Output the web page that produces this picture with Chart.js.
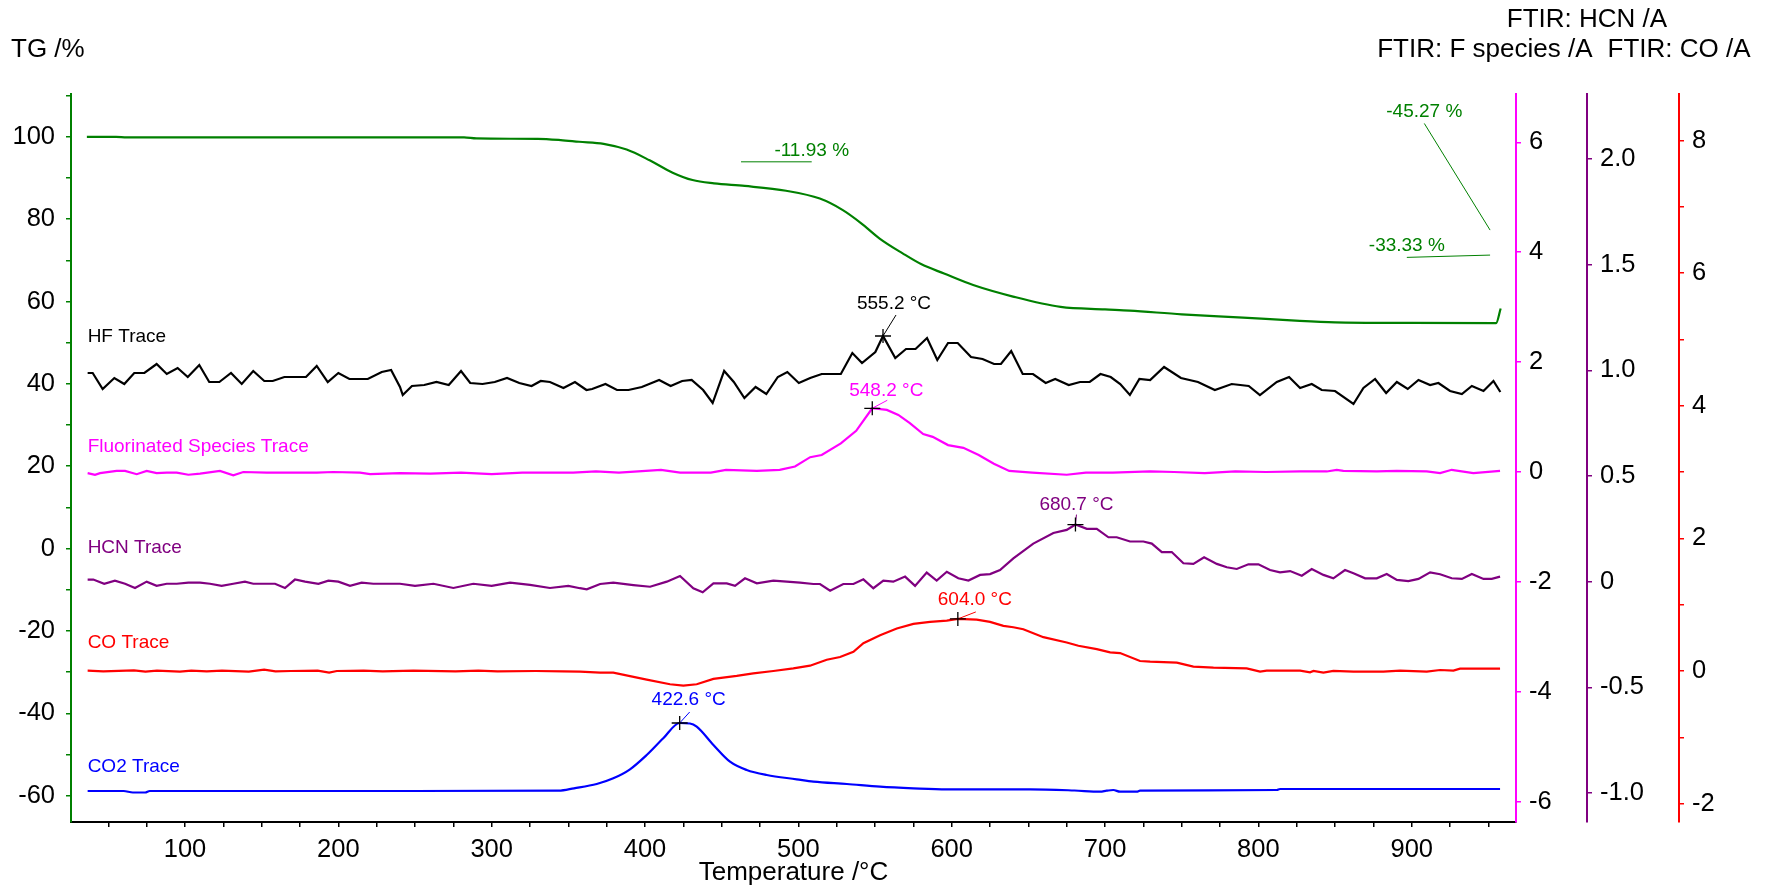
<!DOCTYPE html>
<html>
<head>
<meta charset="utf-8">
<title>TG-FTIR</title>
<script src="https://cdn.jsdelivr.net/npm/chart.js@4.4.0/dist/chart.umd.min.js"></script>
<style>
  html, body { margin: 0; padding: 0; background: #fff; }
  #wrap { width: 1771px; height: 890px; }
</style>
</head>
<body>
<div id="wrap"><canvas id="tgChart" width="1771" height="890"></canvas></div>
<script>
// ---------------------------
// Data: [temperature °C, value]
// ---------------------------

// TG mass /%
const tgTrace = [
  [36, 100.0], [55, 100.0], [62, 99.85], [240, 99.85], [282, 99.85], [290, 99.6], [330, 99.5],
  [345, 99.2], [357, 98.8], [373, 98.3], [388, 96.9], [403, 94.3], [418, 91.3], [431, 89.5],
  [445, 88.7], [465, 88.068], [492, 86.9], [514, 85.0], [529, 82.2], [541, 79.0], [553, 75.3],
  [568, 71.7], [580, 69.1], [595, 66.8], [614, 64.0], [640, 61.2], [671, 58.7], [700, 58.1],
  [716, 57.8], [750, 56.9], [790, 56.1], [827, 55.3], [850, 54.95], [900, 54.8], [955, 54.734],
  [958, 58.3]
];

// HF /A
const hfTrace = [
  [36.5, 0.27], [39.8, 0.27], [46.3, 0.11], [53.9, 0.22], [60.4, 0.16], [66.9, 0.27], [73.5, 0.27],
  [81.5, 0.36], [88.1, 0.26], [95.2, 0.32], [101.8, 0.23], [109.3, 0.35], [115.8, 0.18], [122.4, 0.18],
  [130, 0.27], [137, 0.16], [144.5, 0.29], [151.7, 0.19], [157.2, 0.19], [164.8, 0.23], [172.4, 0.23],
  [178.9, 0.23], [185.9, 0.34], [193.1, 0.18], [200, 0.27], [207.2, 0.21], [219.2, 0.21], [228.3, 0.28],
  [234.4, 0.30], [240.2, 0.13], [242, 0.05], [248, 0.14], [256, 0.15], [264, 0.18], [272, 0.15],
  [280, 0.29], [286, 0.17], [294, 0.16], [302, 0.18], [310, 0.22], [318, 0.17], [326, 0.14],
  [332, 0.19], [338, 0.18], [346.8, 0.12], [354.3, 0.18], [361.8, 0.10], [365.5, 0.11], [374.2, 0.16],
  [381.7, 0.10], [389.2, 0.10], [397.9, 0.13], [409.2, 0.20], [416.7, 0.14], [424.2, 0.19], [430.4, 0.20],
  [437.9, 0.10], [444.1, -0.03], [451.6, 0.29], [457.9, 0.18], [464.8, 0.02], [472.1, 0.13], [479.1, 0.06],
  [486.6, 0.23], [492.8, 0.28], [500.3, 0.17], [507.7, 0.22], [515.2, 0.26], [527.7, 0.26], [535.2, 0.47],
  [541.5, 0.37], [550.2, 0.48], [555.2, 0.64], [563.2, 0.42], [570.2, 0.51], [576.4, 0.51], [583.9, 0.62],
  [590.6, 0.40], [597.6, 0.57], [603.9, 0.57], [612.6, 0.43], [620.1, 0.41], [627.6, 0.36], [632.1, 0.36],
  [638.8, 0.49], [646.3, 0.26], [653, 0.26], [661.3, 0.17], [667.5, 0.21], [676.3, 0.15], [683.7, 0.18],
  [690, 0.18], [697, 0.26], [703.7, 0.23], [709.9, 0.16], [716.2, 0.05], [722.4, 0.21], [729.4, 0.20],
  [738.5, 0.33], [749.5, 0.22], [760.6, 0.18], [771.6, 0.10], [782.6, 0.16], [793.7, 0.14], [801, 0.05],
  [812, 0.18], [820, 0.23], [827.2, 0.12], [834.8, 0.16], [841.3, 0.10], [850, 0.09], [862, -0.04],
  [868.5, 0.12], [876.1, 0.21], [883.3, 0.07], [890.3, 0.18], [897.4, 0.11], [904.4, 0.20], [912, 0.15],
  [917.4, 0.17], [925, 0.09], [932.7, 0.06], [939.2, 0.14], [946.8, 0.09], [953.3, 0.19], [957.8, 0.08]
];

// fluorinated species /A
const fTrace = [
  [36.5, -0.02], [41.3, -0.05], [44.6, -0.02], [55.4, 0.02], [60.9, 0.02], [68.5, -0.04], [75, 0.02],
  [81.5, -0.02], [88.1, -0.01], [94.6, -0.01], [102.2, -0.05], [109.8, -0.03], [122.8, 0.02], [131.5, -0.06],
  [138, 0], [153.3, -0.01], [166.3, -0.01], [185.9, -0.01], [196.7, 0], [214.1, -0.01], [220.7, -0.04],
  [240.2, -0.02], [260, -0.03], [280, -0.01], [300, -0.04], [320, -0.01], [338, -0.01], [353.1, -0.01],
  [368, 0.01], [383, -0.01], [400.5, 0.02], [410.4, 0.04], [422.9, -0.01], [442.9, -0.01], [452.8, 0.04],
  [472.9, 0.02], [487.8, 0.04], [497.8, 0.10], [507.7, 0.27], [515.2, 0.31], [527.7, 0.52], [537.7, 0.75],
  [548.2, 1.16], [557.7, 1.13], [565.2, 1.04], [572.7, 0.89], [581.4, 0.69], [587.6, 0.64], [597.6, 0.49],
  [607.6, 0.44], [617.6, 0.31], [627.5, 0.15], [637.5, 0.02], [652.5, -0.01], [675, -0.05], [687.5, -0.01],
  [705, -0.01], [729.4, 0.01], [745, 0], [765, -0.02], [785, 0.01], [805, 0], [827.2, 0.01], [844.6, 0.01],
  [851.1, 0.04], [855.4, 0.02], [877.2, 0.01], [890.2, 0.02], [909.8, 0.01], [918.5, -0.02], [926.1, 0.04],
  [940.2, -0.02], [957.6, 0.02]
];

// HCN /A
const hcnTrace = [
  [36.5, 0.01], [40.2, 0.01], [47.3, -0.01], [54.3, 0.005], [60.9, -0.01], [67.4, -0.03], [75, 0],
  [81.5, -0.02], [88.1, -0.01], [94.6, -0.01], [102.2, -0.005], [109.8, -0.005], [116.3, -0.01],
  [123.9, -0.02], [131.5, -0.01], [139.1, 0], [144.5, -0.01], [153.3, -0.01], [158.7, -0.01], [165.2, -0.03],
  [171.7, 0.01], [178.3, 0], [187, -0.01], [193.5, 0.005], [200, 0], [207.6, -0.02], [215.2, -0.005],
  [222.8, -0.01], [240.2, -0.01], [250, -0.02], [262, -0.01], [275, -0.03], [288, -0.01], [300, -0.02],
  [312, -0.005], [325, -0.015], [338, -0.03], [350, -0.02], [357.6, -0.031], [362, -0.036], [370.7, -0.011],
  [379.3, -0.005], [392.4, -0.016], [403.3, -0.024], [414.2, 0], [422.8, 0.027], [431.5, -0.031],
  [437.6, -0.05], [444.6, -0.008], [453.3, -0.008], [458.7, -0.02], [465.2, 0.016], [472.9, -0.008],
  [483.7, 0.005], [492.4, 0], [501.1, -0.005], [509.8, -0.011], [514.1, -0.011], [520.7, -0.043],
  [529.3, -0.011], [535.9, -0.011], [542.4, 0.011], [548.9, -0.031], [555.4, 0.005], [561.9, 0],
  [569.6, 0.024], [576.1, -0.02], [583.7, 0.043], [590.2, 0.005], [596.8, 0.047], [604.3, 0.016],
  [610.9, 0.005], [618.5, 0.032], [625, 0.036], [631.5, 0.055], [640.2, 0.11], [653.2, 0.18], [666.3, 0.23],
  [675, 0.245], [680.7, 0.27], [688.1, 0.25], [694.6, 0.25], [702.2, 0.21], [707.6, 0.21], [716.3, 0.19],
  [725, 0.19], [730.5, 0.18], [737, 0.14], [743.5, 0.14], [751.1, 0.087], [757.6, 0.084], [764.6, 0.115],
  [772.9, 0.084], [779.4, 0.068], [785.9, 0.06], [793.5, 0.082], [800, 0.082], [807.6, 0.055], [814.1, 0.044],
  [820.7, 0.05], [828.3, 0.028], [834.8, 0.06], [842.4, 0.032], [848.9, 0.016], [856.5, 0.055], [862, 0.04],
  [869.6, 0.016], [877.2, 0.016], [883.7, 0.036], [890.3, 0.008], [897.8, 0.003], [904.4, 0.013],
  [912, 0.044], [918.5, 0.035], [926.1, 0.016], [932.7, 0.013], [939.2, 0.036], [946.8, 0.013],
  [952.2, 0.013], [957.6, 0.024]
];

// CO /A
const coTrace = [
  [36.5, 0.005], [46.7, -0.005], [66.7, 0.01], [74.2, -0.01], [81.7, 0.005], [96.7, -0.01], [104.1, 0.005],
  [114.2, -0.005], [124.1, 0.005], [141.6, -0.01], [151.6, 0.02], [159, -0.005], [169.1, 0], [186.5, 0.005],
  [194, -0.025], [199, 0], [216.5, 0.005], [228.9, -0.005], [248.9, 0.005], [276.4, -0.005], [291.3, 0.005],
  [303.8, -0.005], [328.8, 0], [346.3, -0.005], [357.6, -0.01], [370.7, -0.025], [379.3, -0.025],
  [401.1, -0.13], [416.3, -0.20], [425, -0.22], [433.7, -0.20], [444.6, -0.12], [459.8, -0.075],
  [470.6, -0.035], [483.7, 0], [496.7, 0.04], [507.6, 0.08], [518.5, 0.17], [527.2, 0.21], [535.9, 0.29],
  [542.4, 0.42], [553.3, 0.54], [564.2, 0.64], [575, 0.71], [585.9, 0.74], [596.8, 0.76], [604.0, 0.785],
  [616.3, 0.775], [625, 0.74], [633.7, 0.68], [640.2, 0.66], [646.7, 0.63], [659.8, 0.51], [675, 0.43],
  [682.6, 0.38], [694.6, 0.33], [703.3, 0.28], [709.8, 0.27], [722.8, 0.15], [729.4, 0.14], [746.8, 0.125],
  [757.6, 0.065], [770.7, 0.05], [792.4, 0.04], [801.1, -0.01], [805.4, 0.005], [827.2, 0.005],
  [833.7, -0.02], [835.9, 0], [842.4, -0.025], [848.9, 0], [862, -0.01], [881.5, -0.01], [892.4, 0.005],
  [909.8, -0.01], [918.5, 0.015], [927.2, 0.005], [931.5, 0.035], [957.6, 0.035]
];

// CO2 /A
const co2Trace = [
  [36.5, 0], [60, 0], [66, -0.015], [74, -0.015], [77, 0], [150, 0], [250, 0], [343.7, 0.003],
  [353.7, 0.027], [368.5, 0.07], [379.3, 0.127], [390.2, 0.217], [401.1, 0.36], [411.9, 0.527],
  [422.6, 0.68], [429.3, 0.675], [433.7, 0.643], [444.6, 0.46], [455.4, 0.293], [466.3, 0.21],
  [479.4, 0.16], [498.9, 0.117], [509.8, 0.093], [531.6, 0.07], [553.3, 0.043], [575, 0.027],
  [596.8, 0.017], [618.5, 0.017], [651.1, 0.017], [680, 0.005], [696.7, -0.007], [701.1, 0.003],
  [705.4, 0.01], [709.8, -0.007], [720.7, -0.007], [722.8, 0.003], [812, 0.01], [814.1, 0.02], [957.6, 0.02]
];

// peak temperatures: HF, F species, HCN, CO, CO2
const peakTemps = [555.2, 548.2, 680.7, 604.0, 422.6];

// TG steps [from, to] in °C
const tgSteps = [[36, 465], [465, 955], [36, 955]];

// axis ranges and tick steps
const tempRange = [25.65, 968];
const tgRange = [-66.4, 110.4];
const fRange = [-6.37, 6.88];
const hcnRange = [-1.137, 2.307];
const coRange = [-2.278, 8.703];
const hfRange = [-4.22, 3.06];
const co2Range = [-0.31, 6.97];

// ---------------------------
// Style
// ---------------------------
const FONT = "'Liberation Sans', Arial, Helvetica, sans-serif";
const GREEN = "#008000";
const MAGENTA = "#ff00ff";
const PURPLE = "#800080";
const RED = "#ff0000";
const BLUE = "#0000ff";
const BLACK = "#000000";

const tickFont = { family: FONT, size: 25.5 };

function toPoints(pairs) {
  return pairs.map(([x, y]) => ({ x, y }));
}

function valueAt(pairs, t) {
  const hit = pairs.find(p => p[0] === t);
  return hit ? hit[1] : null;
}

// y axis with a fixed box width
function yAxis(range, color, position, width, weight, step, label) {
  return {
    type: "linear",
    position,
    weight,
    min: range[0],
    max: range[1],
    afterFit: s => { s.width = width; },
    border: { display: true, color, width: 2 },
    grid: { drawOnChartArea: false, drawTicks: true, tickLength: 5, color, lineWidth: 1.5 },
    ticks: {
      stepSize: step,
      includeBounds: false,
      autoSkip: false,
      padding: position === "left" ? 11 : 8,
      color: BLACK,
      font: tickFont,
      callback: label
    }
  };
}

function hiddenAxis(range) {
  return { type: "linear", display: false, min: range[0], max: range[1] };
}

// ---------------------------
// Notes drawn over the traces
// ---------------------------

const traceLabels = [
  { text: "HF Trace", data: hfTrace, axis: "yHF", color: BLACK, lift: 36 },
  { text: "Fluorinated Species Trace", data: fTrace, axis: "yF", color: MAGENTA, lift: 26 },
  { text: "HCN Trace", data: hcnTrace, axis: "yHCN", color: PURPLE, lift: 32 },
  { text: "CO Trace", data: coTrace, axis: "yCO", color: RED, lift: 28 },
  { text: "CO2 Trace", data: co2Trace, axis: "yCO2", color: BLUE, lift: 24 }
];

const peakNotes = [
  { data: hfTrace, axis: "yHF", color: BLACK, text: [11, -32], leader: [13, -21] },
  { data: fTrace, axis: "yF", color: MAGENTA, text: [14, -18], leader: [15, -8] },
  { data: hcnTrace, axis: "yHCN", color: PURPLE, text: [1, -20], leader: [1, -10] },
  { data: coTrace, axis: "yCO", color: RED, text: [17, -19], leader: [18, -7] },
  { data: co2Trace, axis: "yCO2", color: BLUE, text: [9, -23], leader: [10, -11] }
];

// leader lines for the TG steps, in (°C, %)
const stepLeaders = [
  [[508.7, 93.93], [462.6, 93.93]],
  [[896.8, 70.72], [951.1, 71.28]],
  [[908.2, 103.25], [951.1, 77.35]]
];

const notesPlugin = {
  id: "traceNotes",
  afterDatasetsDraw(chart) {
    const ctx = chart.ctx;
    const x = chart.scales.x;
    const yTG = chart.scales.yTG;
    ctx.save();

    // axis headings
    ctx.fillStyle = BLACK;
    ctx.font = `26px ${FONT}`;
    ctx.textBaseline = "alphabetic";
    ctx.textAlign = "left";
    ctx.fillText("TG /%", 11, 57);
    ctx.textAlign = "center";
    ctx.fillText("FTIR: HCN /A", chart.scales.yHCN.left, 27);
    ctx.fillText("FTIR: CO /A", chart.scales.yCO.left, 57);
    const coHalf = ctx.measureText("FTIR: CO /A").width / 2;
    ctx.textAlign = "right";
    ctx.fillText("FTIR: F species /A", chart.scales.yCO.left - coHalf - 15, 57);

    // trace names
    ctx.font = `19px ${FONT}`;
    ctx.textAlign = "left";
    ctx.textBaseline = "middle";
    traceLabels.forEach(l => {
      const px = x.getPixelForValue(l.data[0][0]);
      const py = chart.scales[l.axis].getPixelForValue(l.data[0][1]) - l.lift;
      ctx.fillStyle = l.color;
      ctx.fillText(l.text, px, py);
    });

    // peak markers
    peakNotes.forEach((n, i) => {
      const t = peakTemps[i];
      const px = x.getPixelForValue(t);
      const py = chart.scales[n.axis].getPixelForValue(valueAt(n.data, t));
      ctx.strokeStyle = n.color;
      ctx.lineWidth = 1;
      ctx.beginPath();
      ctx.moveTo(px, py);
      ctx.lineTo(px + n.leader[0], py + n.leader[1]);
      ctx.stroke();
      ctx.strokeStyle = BLACK;
      ctx.lineWidth = 1.3;
      ctx.beginPath();
      ctx.moveTo(px - 8, py); ctx.lineTo(px + 8, py);
      ctx.moveTo(px, py - 7); ctx.lineTo(px, py + 7);
      ctx.stroke();
      ctx.fillStyle = n.color;
      ctx.textAlign = "center";
      ctx.fillText(`${t.toFixed(1)} °C`, px + n.text[0], py + n.text[1]);
    });

    // TG steps
    ctx.strokeStyle = GREEN;
    ctx.fillStyle = GREEN;
    ctx.lineWidth = 1;
    tgSteps.forEach(([from, to], i) => {
      const loss = valueAt(tgTrace, to) - valueAt(tgTrace, from);
      const [a, b] = stepLeaders[i];
      const ax = x.getPixelForValue(a[0]), ay = yTG.getPixelForValue(a[1]);
      ctx.beginPath();
      ctx.moveTo(ax, ay);
      ctx.lineTo(x.getPixelForValue(b[0]), yTG.getPixelForValue(b[1]));
      ctx.stroke();
      ctx.fillText(`${loss.toFixed(2)} %`, ax, ay - 11.5);
    });

    ctx.restore();
  }
};

// ---------------------------
// Chart
// ---------------------------

function createChart() {
  const ctx = document.getElementById("tgChart").getContext("2d");
  const line = (label, pairs, axis, color, smooth) => ({
    label,
    data: toPoints(pairs),
    yAxisID: axis,
    borderColor: color,
    borderWidth: 2.2,
    pointRadius: 0,
    fill: false,
    tension: 0,
    cubicInterpolationMode: smooth ? "monotone" : "default"
  });

  return new Chart(ctx, {
    type: "line",
    data: {
      datasets: [
        line("TG", tgTrace, "yTG", GREEN, true),
        line("HF Trace", hfTrace, "yHF", BLACK, false),
        line("Fluorinated Species Trace", fTrace, "yF", MAGENTA, false),
        line("HCN Trace", hcnTrace, "yHCN", PURPLE, false),
        line("CO Trace", coTrace, "yCO", RED, false),
        line("CO2 Trace", co2Trace, "yCO2", BLUE, true)
      ]
    },
    options: {
      responsive: false,
      animation: false,
      devicePixelRatio: 1,
      layout: { padding: { top: 94, left: 0, right: 0, bottom: 0 } },
      plugins: { legend: { display: false }, tooltip: { enabled: false } },
      scales: {
        x: {
          type: "linear",
          min: tempRange[0],
          max: tempRange[1],
          afterFit: s => { s.height = 68; },
          border: { display: true, color: BLACK, width: 2 },
          grid: { drawOnChartArea: false, tickLength: 5, color: BLACK, lineWidth: 1.5 },
          ticks: {
            stepSize: 25,
            includeBounds: false,
            autoSkip: false,
            maxRotation: 0,
            padding: 8,
            color: BLACK,
            font: tickFont,
            callback: v => (v % 100 === 0 ? String(v) : "")
          },
          title: {
            display: true,
            text: "Temperature /°C",
            color: BLACK,
            font: { family: FONT, size: 26 },
            padding: { top: 0, bottom: 2 }
          }
        },
        yTG: yAxis(tgRange, GREEN, "left", 71, 0, 10, v => (v % 20 === 0 ? String(v) : "")),
        yF: yAxis(fRange, MAGENTA, "right", 71, 1, 2, v => String(v)),
        yHCN: yAxis(hcnRange, PURPLE, "right", 92, 2, 0.5, v => (v === 0 ? "0" : v.toFixed(1))),
        yCO: yAxis(coRange, RED, "right", 92, 3, 1, v => (v % 2 === 0 ? String(v) : "")),
        yHF: hiddenAxis(hfRange),
        yCO2: hiddenAxis(co2Range)
      }
    },
    plugins: [notesPlugin]
  });
}

createChart();
</script>
</body>
</html>
